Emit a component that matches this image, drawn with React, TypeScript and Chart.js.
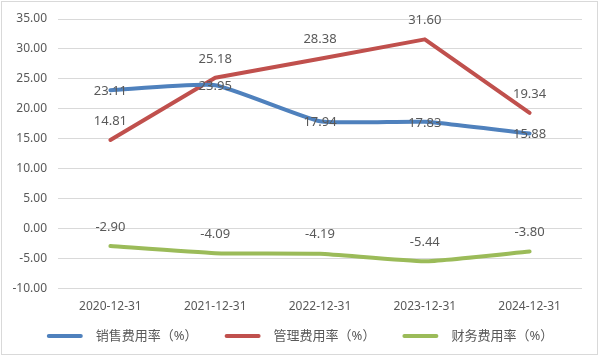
import React, { useEffect, useRef } from "react";
import { Chart, registerables } from "chart.js";

Chart.register(...registerables);

const categories = ["2020-12-31", "2021-12-31", "2022-12-31", "2023-12-31", "2024-12-31"];
const sellingRate = [23.11, 23.95, 17.94, 17.83, 15.88];
const adminRate = [14.81, 25.18, 28.38, 31.6, 19.34];
const financeRate = [-2.9, -4.09, -4.19, -5.44, -3.8];
const seriesNames = ["销售费用率（%）", "管理费用率（%）", "财务费用率（%）"];
const colors = ["#4F81BD", "#C0504D", "#9BBB59"];
const labelPlacement = ["center", "above", "above"];

const FONT = '"Noto Sans", "Noto Sans CJK SC", sans-serif';
const TEXT = "#595959";

const decorPlugin = {
  id: "decor",
  beforeDraw(chart: any) {
    const ctx = chart.ctx;
    ctx.save();
    ctx.fillStyle = "#ffffff";
    ctx.fillRect(0, 0, chart.width, chart.height);
    ctx.strokeStyle = "#D9D9D9";
    ctx.lineWidth = 1;
    ctx.strokeRect(1.5, 1.5, 596, 353);
    ctx.restore();
  },
  afterDatasetsDraw(chart: any) {
    const ctx = chart.ctx;
    ctx.save();
    ctx.font = `13px ${FONT}`;
    ctx.fillStyle = TEXT;
    ctx.textAlign = "center";
    ctx.textBaseline = "middle";
    chart.data.datasets.forEach((ds: any, i: number) => {
      const meta = chart.getDatasetMeta(i);
      meta.data.forEach((pt: any, j: number) => {
        const v = ds.data[j] as number;
        const dy = labelPlacement[i] === "above" ? -19 : 1;
        ctx.fillText(v.toFixed(2), pt.x, pt.y + dy);
      });
    });
    ctx.restore();
  },
  afterDraw(chart: any) {
    const ctx = chart.ctx;
    ctx.save();
    ctx.font = `13px ${FONT}`;
    ctx.textBaseline = "middle";
    const y = 336;
    const sample = 36;
    const gapText = 13;
    const gapItem = 27;
    const widths = seriesNames.map((n) => ctx.measureText(n).width);
    const total = widths.reduce((a, w) => a + sample + gapText + w, 0) + gapItem * (seriesNames.length - 1);
    let x = 300 - total / 2;
    seriesNames.forEach((n, i) => {
      ctx.strokeStyle = colors[i];
      ctx.lineWidth = 4;
      ctx.lineCap = "round";
      ctx.beginPath();
      ctx.moveTo(x + 2, y);
      ctx.lineTo(x + sample - 2, y);
      ctx.stroke();
      ctx.fillStyle = TEXT;
      ctx.textAlign = "left";
      ctx.fillText(n, x + sample + gapText, y);
      x += sample + gapText + widths[i] + gapItem;
    });
    ctx.restore();
  },
};

export default function App() {
  const ref = useRef<HTMLCanvasElement>(null);
  useEffect(() => {
    const ds = [sellingRate, adminRate, financeRate].map((d, i) => ({
      label: seriesNames[i],
      data: d,
      borderColor: colors[i],
      backgroundColor: colors[i],
      borderWidth: 4,
      pointRadius: 0,
      tension: i === 1 ? 0 : 0.15,
      borderCapStyle: "round" as const,
      borderJoinStyle: "round" as const,
    }));
    const chart = new Chart(ref.current!, {
      type: "line",
      data: { labels: categories, datasets: ds },
      options: {
        animation: false,
        responsive: false,
        devicePixelRatio: 1,
        layout: { padding: { top: 19, right: 18, bottom: 35, left: 0 } },
        plugins: { legend: { display: false }, tooltip: { enabled: false } },
        scales: {
          x: {
            offset: true,
            grid: { display: false, drawTicks: false },
            border: { display: false },
            ticks: { color: TEXT, font: { family: FONT, size: 12 }, padding: 11, maxRotation: 0 },
          },
          y: {
            min: -10,
            max: 35,
            afterFit: (s: any) => {
              s.width = 58;
            },
            grid: { color: "#D9D9D9", lineWidth: 1, drawTicks: false },
            border: { display: false },
            ticks: {
              stepSize: 5,
              color: TEXT,
              padding: 11,
              font: { family: FONT, size: 12 },
              callback: (v: any) => Number(v).toFixed(2),
            },
          },
        },
      },
      plugins: [decorPlugin],
    });
    return () => chart.destroy();
  }, []);
  return (
    <div style={{ position: "fixed", left: 0, top: 0, width: 600, height: 360, background: "#fff" }}>
      <canvas ref={ref} width={600} height={360} style={{ display: "block", width: 600, height: 360 }} />
    </div>
  );
}
